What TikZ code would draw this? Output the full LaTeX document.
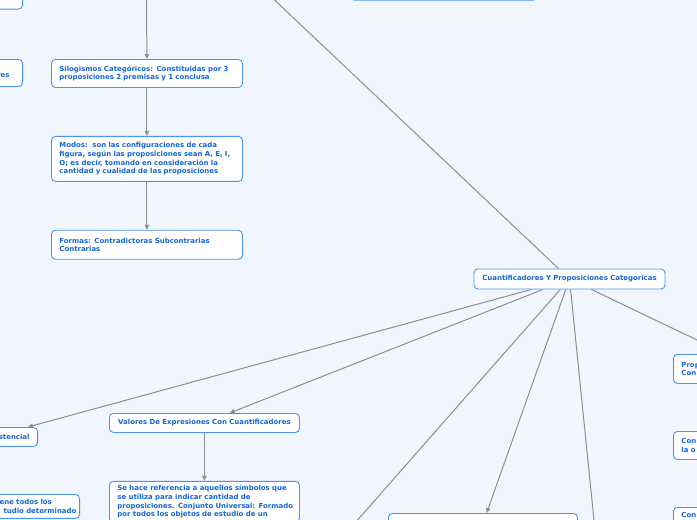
\documentclass[tikz,border=0pt]{standalone}
\usepackage{fontspec}
\setmainfont{DejaVu Sans}
\usetikzlibrary{arrows.meta,positioning}
\definecolor{mmbg}{HTML}{F1F5FD}
\definecolor{mmbox}{HTML}{4A94EC}
\definecolor{mmtext}{HTML}{1466D4}
\definecolor{mmline}{HTML}{8E8E8E}
\hbadness=10000 \hfuzz=50pt

\begin{document}
\begin{tikzpicture}[
  x=1pt,y=-1pt,
  font=\fontsize{6.95}{8.6}\selectfont\bfseries,
  node distance=48pt,
  topic/.style={draw=mmbox,fill=white,line width=0.9pt,rounded corners=4pt,text=mmtext,
                text width=175pt,align=left,inner xsep=8pt,inner ysep=3pt},
  single/.style={topic,align=center,minimum height=20pt},
  ln/.style={mmline,line width=1pt},
  ar/.style={ln,-{Triangle[length=5pt,width=4.5pt]}}
]
\fill[mmbg] (0,0) rectangle (697,520);
\useasboundingbox (0,0) rectangle (697,520);
\clip (0,0) rectangle (697,520);

% left branch
\node[topic,anchor=south east,text width=104pt,minimum height=28pt] (prev) at (23,9.5) {};
\node[topic,anchor=north east,text width=104pt,minimum height=27pt,align=right] (pres) at (23,59)
  {\mbox{}\\res\hspace*{5pt}};
\node[topic,anchor=north west,minimum height=28pt] (sil) at (51,59)
  {\mbox{Silogismos Categóricos: Constituidas por 3}\\proposiciones 2 premisas y 1 conclusa};
\node[topic,below=of sil,minimum height=45pt] (modos)
  {Modos:\ \ son las configuraciones de cada\\\mbox{figura, según las proposiciones sean A, E, I,}\\
   \mbox{O; es decir, tomando en consideración la}\\\mbox{cantidad y cualidad de las proposiciones}};
\node[topic,below=of modos,minimum height=29pt] (formas)
  {Formas: Contradictoras Subcontrarias\\Contrarias};
\node[topic,anchor=south west,text width=171pt,minimum height=28pt] (ptop) at (350,0.5) {};

% central topic
\node[single] (cq) at (569.5,279) {Cuantificadores Y Proposiciones Categoricas};

\node[topic,anchor=north east,text width=76pt,minimum height=19pt,align=right] (exist) at (38,427)
  {stencial};
\node[single,anchor=north west,minimum height=19pt,text width=174pt] (valores) at (109,413)
  {Valores De Expresiones Con Cuantificadores};
\node[topic,below=of valores,text width=174pt,inner ysep=4pt] (simb)
  {\mbox{Se hace referencia a aquellos símbolos que}\\\mbox{se utiliza para indicar cantidad de}\\
   \mbox{proposiciones. Conjunto Universal: Formado}\\\mbox{por todos los objetos de estudio de un}};
\node[topic,anchor=north east,text width=120pt,inner ysep=5pt] (univ) at (80,494)
  {\mbox{\hspace*{48pt}ene todos los}\\\mbox{\hspace*{52pt}tudio determinado}};
\node[topic,anchor=north west,text width=173pt,minimum height=20pt] (pbot) at (388,513) {};

% right column
\node[topic,anchor=north west,minimum height=29pt] (prop) at (673,354) {Prop\\Con};
\node[topic,anchor=north west,minimum height=28pt] (conla) at (673,431) {Con\\la o};
\node[topic,anchor=north west,inner ysep=5pt] (con) at (673,507) {Con\\\mbox{}};

\coordinate (silin) at (146.5,-10);
\coordinate (cqup) at (264,-10);
\coordinate (cqdl) at (340,540);
\coordinate (cqdr) at (596,540);
\coordinate (cqr) at (720,351);

\draw[ar] (silin) -- (sil);
\draw[ar] (sil) -- (modos);
\draw[ar] (modos) -- (formas);
\draw[ln] (cq) -- (cqup);
\draw[ar] (cq) -- (exist);
\draw[ar] (cq) -- (valores);
\draw[ln] (cq) -- (cqdl);
\draw[ar] (cq) -- (pbot);
\draw[ln] (cq) -- (cqdr);
\draw[ln] (cq) -- (cqr);
\draw[ar] (valores) -- (simb);
\end{tikzpicture}
\end{document}
